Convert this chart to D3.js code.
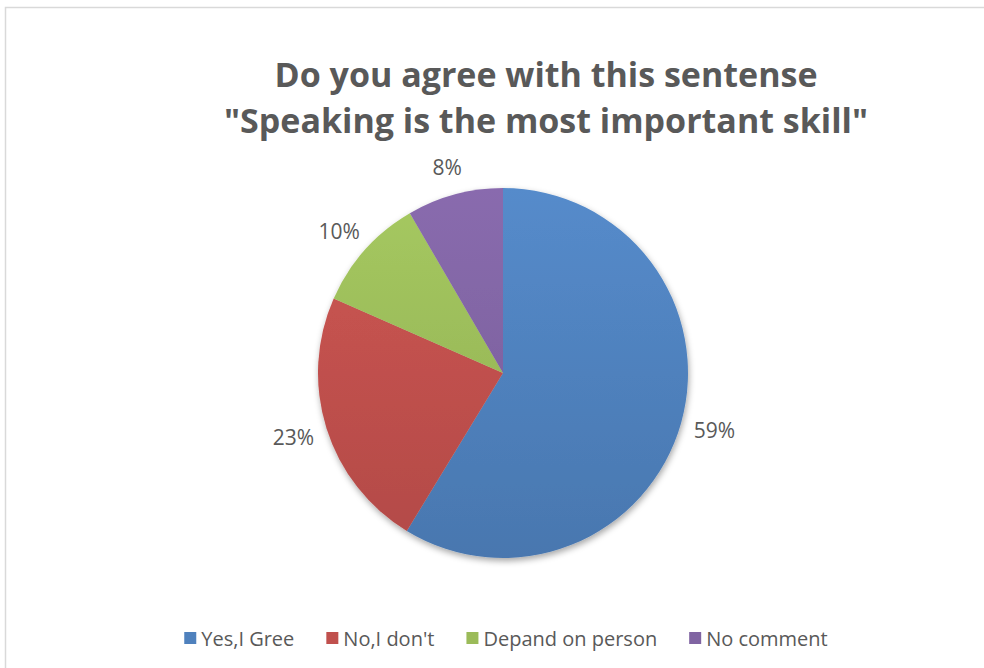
<!DOCTYPE html>
<html>
<head>
<meta charset="utf-8">
<script src="https://cdn.jsdelivr.net/npm/d3@7"></script>
<style>
  html, body { margin: 0; padding: 0; background: #fff; }
  svg { display: block; }
</style>
</head>
<body>
<div id="chart"></div>
<script>
// answers, in the order Excel drew them (clockwise from 12 o'clock)
const categories = ["Yes,I Gree", "No,I don't", "Depand on person", "No comment"];
const shares = [58.7, 22.9, 10.0, 8.4];
const colors = ["#4F81BD", "#C0504D", "#9BBB59", "#8064A2"];
const titleLines = ["Do you agree with this sentense", "\"Speaking is the most important skill\""];

const width = 984,
      height = 668;

const cx = 503, cy = 373, radius = 185;

let svg = d3.select("#chart")
            .append("svg")
            .attr("width", width)
            .attr("height", height);

const defs = svg.append("defs");

// soft shadow under the pie
let shadow = defs.append("filter")
    .attr("id", "pieShadow")
    .attr("x", "-20%").attr("y", "-20%")
    .attr("width", "140%").attr("height", "140%");
shadow.append("feDropShadow")
    .attr("dx", 1)
    .attr("dy", 3)
    .attr("stdDeviation", 3)
    .attr("flood-color", "#000")
    .attr("flood-opacity", 0.35);

// one vertical gradient per slice, light on top, darker at the bottom
// (coords are in the pie group's space, centre = 0,0)
colors.forEach((c, i) => {
    let grad = defs.append("linearGradient")
        .attr("id", `grad-${i}`)
        .attr("gradientUnits", "userSpaceOnUse")
        .attr("x1", 0).attr("y1", -radius)
        .attr("x2", 0).attr("y2", radius);
    grad.append("stop").attr("offset", "0%").attr("stop-color", d3.color(c).brighter(0.2));
    grad.append("stop").attr("offset", "100%").attr("stop-color", d3.color(c).darker(0.22));
});

// chart area frame (runs off the right and bottom edge)
svg.append("rect")
    .attr("x", 5.5)
    .attr("y", 7.5)
    .attr("width", 1200)
    .attr("height", 800)
    .attr("fill", "none")
    .attr("stroke", "#d9d9d9")
    .attr("stroke-width", 1.5);

// title
svg.append("text")
    .attr("x", 546)
    .attr("y", 87)
    .attr("text-anchor", "middle")
    .style("font", "700 34px 'Open Sans'")
    .attr("fill", "#595959")
    .selectAll("tspan")
    .data(titleLines)
    .join("tspan")
        .attr("x", 546)
        .attr("dy", (d, i) => i === 0 ? 0 : 46)
        .text(d => d);

/////// PIE ///////
let pie = d3.pie().sort(null).value(d => d.value);
let arc = d3.arc().innerRadius(0).outerRadius(radius);

let data = pie(categories.map((name, i) => ({ name, value: shares[i], i })));
let total = d3.sum(shares);

let g = svg.append("g").attr("transform", `translate(${cx},${cy})`);

g.append("g")
    .attr("filter", "url(#pieShadow)")
    .selectAll("path")
    .data(data)
    .join("path")
        .attr("d", arc)
        .attr("fill", d => `url(#grad-${d.data.i})`);

// outside-end labels: the text box sits just outside the rim
let labels = g.append("g")
    .selectAll("text")
    .data(data)
    .join("text")
        .style("font", "400 21px 'Open Sans'")
        .attr("fill", "#595959")
        .attr("text-anchor", "middle")
        .attr("dominant-baseline", "central")
        .text(d => Math.round(d.data.value / total * 100) + "%");

labels.each(function(d) {
    let box = this.getBBox();
    let a = (d.startAngle + d.endAngle) / 2;
    let ux = Math.sin(a), uy = -Math.cos(a);
    let gap = 14;
    let x = ux * (radius + gap) + ux * box.width / 2;
    let y = uy * (radius + gap) + uy * box.height / 2;
    d3.select(this).attr("x", x).attr("y", y);
});

/////// LEGEND ///////
const legendY = 638,
      swatch = 12,
      swatchGap = 5,
      itemGap = 32;

let legend = svg.append("g");
let items = legend.selectAll("g")
    .data(categories)
    .join("g");

items.append("rect")
    .attr("width", swatch)
    .attr("height", swatch)
    .attr("y", legendY - swatch / 2)
    .attr("fill", (d, i) => colors[i]);

items.append("text")
    .attr("x", swatch + swatchGap)
    .attr("y", legendY)
    .attr("dominant-baseline", "central")
    .style("font", "400 20px 'Open Sans'")
    .attr("fill", "#595959")
    .text(d => d);

// flow the legend items and center the row
let xPos = 0;
items.each(function() {
    d3.select(this).attr("transform", `translate(${xPos},0)`);
    xPos += this.getBBox().width + itemGap;
});
let legendWidth = xPos - itemGap;
legend.attr("transform", `translate(${506 - legendWidth / 2},0)`);
</script>
</body>
</html>
